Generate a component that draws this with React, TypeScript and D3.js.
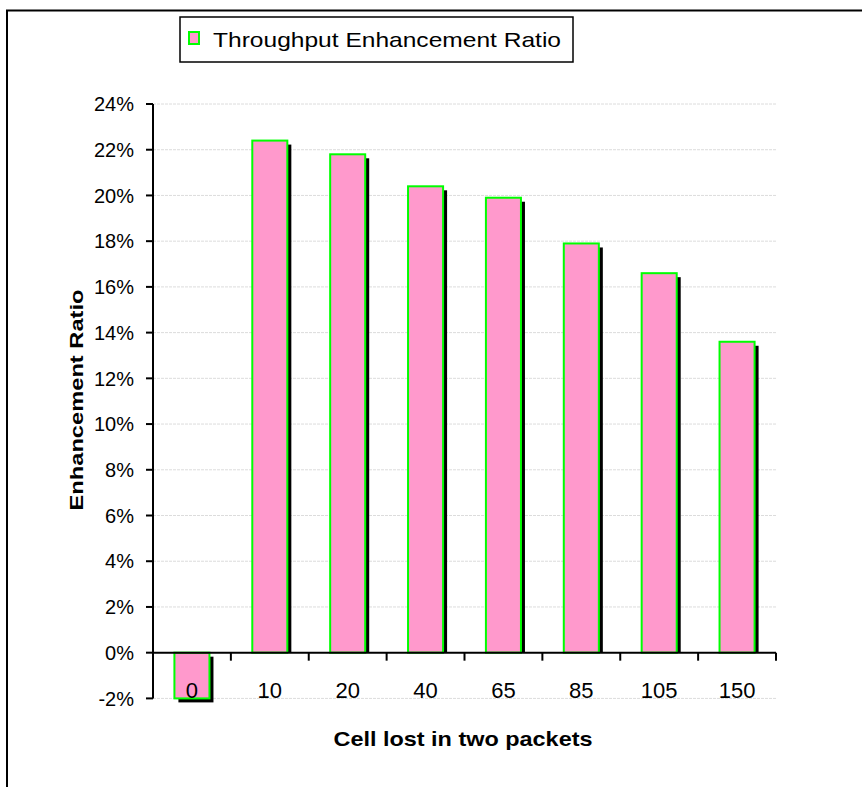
import React from "react";
import * as d3 from "d3";

// Cells lost in two packets vs. throughput enhancement (percent)
const categories = ["0", "10", "20", "40", "65", "85", "105", "150"];
const ratioValues = [-2.0, 22.4, 21.8, 20.4, 19.9, 17.9, 16.6, 13.6];
const yTicks = [-2, 0, 2, 4, 6, 8, 10, 12, 14, 16, 18, 20, 22, 24];
const seriesName = "Throughput Enhancement Ratio";
const xTitle = "Cell lost in two packets";
const yTitle = "Enhancement Ratio";

const W = 862;
const H = 787;
const plot = { left: 153, right: 776, top: 104, bottom: 698.4 };
const FONT = "Arial, 'Liberation Sans', sans-serif";
const PINK = "#FF99CC";
const GREEN = "#00FF00";

export default function App() {
  const x = d3
    .scaleBand<string>()
    .domain(categories)
    .range([plot.left, plot.right])
    .paddingInner(0.55)
    .paddingOuter(0.275);
  const band = d3.scaleBand<string>().domain(categories).range([plot.left, plot.right]);
  const y = d3.scaleLinear().domain([-2, 24]).range([plot.bottom, plot.top]);
  const y0 = y(0);
  const shadow = 4;

  return (
    <svg
      width={W}
      height={H}
      style={{ position: "absolute", left: 0, top: 0, background: "#fff" }}
      fontFamily={FONT}
    >
      {/* chart frame */}
      <rect x={7} y={10.5} width={W + 20} height={H + 20} fill="#fff" stroke="#000" strokeWidth={2} />

      {/* legend */}
      <rect x={180} y={17} width={393} height={45} fill="#fff" stroke="#000" strokeWidth={1.5} />
      <rect x={189} y={32} width={10} height={12} fill={PINK} stroke={GREEN} strokeWidth={2} />
      <text x={213} y={47} fontSize={21} textLength={348} lengthAdjust="spacingAndGlyphs" fill="#000">
        {seriesName}
      </text>

      {/* gridlines */}
      {yTicks.map((t) => (
        <line
          key={"g" + t}
          x1={plot.left}
          x2={plot.right}
          y1={y(t)}
          y2={y(t)}
          stroke="#dcdcdc"
          strokeWidth={1}
          strokeDasharray="3,1"
        />
      ))}

      {/* bar shadows, cut off at the zero line */}
      {ratioValues.map((v, i) => {
        const bx = x(categories[i])! + shadow;
        if (v >= 0) {
          return (
            <rect
              key={"s" + i}
              x={bx}
              y={y(v) + shadow}
              width={x.bandwidth()}
              height={Math.max(0, y0 - y(v) - shadow)}
              fill="#000"
            />
          );
        }
        return (
          <rect
            key={"s" + i}
            x={bx}
            y={y0 + shadow}
            width={x.bandwidth()}
            height={y(v) - y0}
            fill="#000"
          />
        );
      })}

      {/* bars */}
      {ratioValues.map((v, i) => {
        const top = Math.min(y(v), y0);
        const h = Math.abs(y(v) - y0);
        return (
          <rect
            key={"b" + i}
            x={x(categories[i])!}
            y={top}
            width={x.bandwidth()}
            height={h}
            fill={PINK}
            stroke={GREEN}
            strokeWidth={2}
          />
        );
      })}

      {/* y axis */}
      <line x1={plot.left} x2={plot.left} y1={plot.top} y2={plot.bottom} stroke="#000" strokeWidth={2} />
      {yTicks.map((t) => (
        <g key={"yt" + t}>
          <line x1={plot.left - 7} x2={plot.left} y1={y(t)} y2={y(t)} stroke="#000" strokeWidth={2} />
          <text x={plot.left - 19} y={y(t)} dy="0.36em" textAnchor="end" fontSize={20} fill="#000">
            {t + "%"}
          </text>
        </g>
      ))}

      {/* x axis */}
      <line x1={plot.left} x2={plot.right} y1={y0} y2={y0} stroke="#000" strokeWidth={2} />
      {categories.map((c) => (
        <line
          key={"xt" + c}
          x1={band(c)! + band.bandwidth()}
          x2={band(c)! + band.bandwidth()}
          y1={y0}
          y2={y0 + 8}
          stroke="#000"
          strokeWidth={2}
        />
      ))}
      {categories.map((c) => (
        <text
          key={"xl" + c}
          x={band(c)! + band.bandwidth() / 2}
          y={697.5}
          textAnchor="middle"
          fontSize={22}
          fill="#000"
        >
          {c}
        </text>
      ))}

      {/* axis titles */}
      <text
        x={463}
        y={746}
        textAnchor="middle"
        fontSize={21}
        fontWeight="bold"
        textLength={259}
        lengthAdjust="spacingAndGlyphs"
        fill="#000"
      >
        {xTitle}
      </text>
      <text
        transform={`translate(83, 400) rotate(-90)`}
        textAnchor="middle"
        fontSize={18}
        fontWeight="bold"
        textLength={221}
        lengthAdjust="spacingAndGlyphs"
        fill="#000"
      >
        {yTitle}
      </text>
    </svg>
  );
}
